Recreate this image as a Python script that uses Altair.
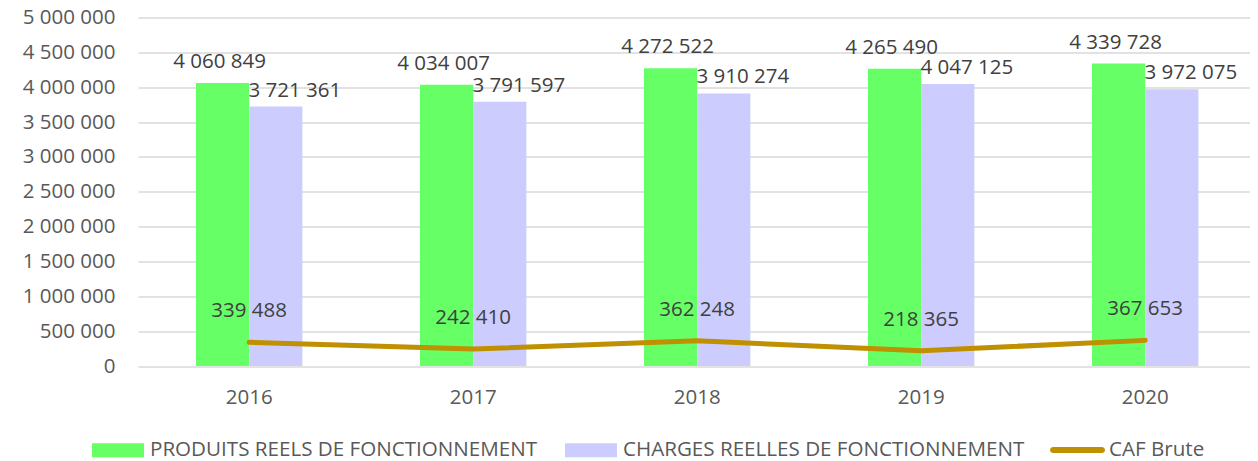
import altair as alt
import pandas as pd

years = ["2016", "2017", "2018", "2019", "2020"]
produits = [4060849, 4034007, 4272522, 4265490, 4339728]
charges = [3721361, 3791597, 3910274, 4047125, 3972075]
caf = [339488, 242410, 362248, 218365, 367653]
series_names = ["PRODUITS REELS DE FONCTIONNEMENT", "CHARGES REELLES DE FONCTIONNEMENT"]
caf_name = "CAF Brute"
bar_colors = ["#66FF66", "#CCCCFF"]
line_color = "#BF9000"
y_ticks = [0, 500000, 1000000, 1500000, 2000000, 2500000, 3000000, 3500000, 4000000, 4500000, 5000000]

FONT = "Open Sans"
FS = 20.5
LFS = 20.6
AXIS_COLOR = "#595959"
LABEL_COLOR = "#404040"
FMT = "replace(format(datum.value, ','), regexp(',', 'g'), ' ')"

bars_df = pd.DataFrame({
    "year": years * 2,
    "series": [series_names[0]] * len(years) + [series_names[1]] * len(years),
    "value": produits + charges,
})
caf_df = pd.DataFrame({"year": years, "value": caf, "series2": [caf_name] * len(years)})

x_enc = alt.X(
    "year:N", sort=years,
    scale=alt.Scale(paddingInner=0.525, paddingOuter=0.2446, align=0.529),
    axis=alt.Axis(title=None, labelAngle=0, ticks=False, domain=False, grid=False,
                  labelPadding=21, labelFont=FONT, labelFontSize=FS, labelColor=AXIS_COLOR),
)
y_enc = alt.Y(
    "value:Q",
    scale=alt.Scale(domain=[0, 5000000], nice=False),
    axis=alt.Axis(title=None, values=y_ticks, tickCount=11, labelExpr=FMT, ticks=False, domain=False,
                  labelOverlap=False, gridColor="#D9D9D9", gridWidth=1.3, labelPadding=23,
                  labelFont=FONT, labelFontSize=FS, labelColor=AXIS_COLOR),
)
xoff = alt.XOffset("series:N", sort=series_names, scale=alt.Scale(paddingInner=0, paddingOuter=0))

bar_path = "M-1,-0.27L1,-0.27L1,0.27L-1,0.27Z"
capsule = "M-0.89,-0.109L0.89,-0.109A0.109,0.109,0,0,1,0.89,0.109L-0.89,0.109A0.109,0.109,0,0,1,-0.89,-0.109Z"

bars = alt.Chart(bars_df).mark_bar().encode(
    x=x_enc, y=y_enc, xOffset=xoff,
    color=alt.Color("series:N", sort=series_names,
                    scale=alt.Scale(domain=series_names, range=bar_colors),
                    legend=alt.Legend(title=None, orient="none", legendX=-46, legendY=406.5,
                                      direction="horizontal", symbolType=bar_path, symbolSize=2704,
                                      symbolStrokeWidth=0, symbolOpacity=1, labelFont=FONT,
                                      labelFontSize=LFS, labelColor=AXIS_COLOR, labelOffset=6,
                                      columnPadding=27, padding=0, labelLimit=0)),
)

base_text = alt.Chart(bars_df).transform_calculate(label=FMT)
txt_p = base_text.transform_filter(alt.datum.series == series_names[0]).mark_text(
    dx=-3, dy=-15, baseline="alphabetic", align="center", font=FONT, fontSize=FS, color=LABEL_COLOR
).encode(x=x_enc, y=y_enc, xOffset=xoff, text="label:N")
txt_c = base_text.transform_filter(alt.datum.series == series_names[1]).mark_text(
    dx=19, dy=-10, baseline="alphabetic", align="center", font=FONT, fontSize=FS, color=LABEL_COLOR
).encode(x=x_enc, y=y_enc, xOffset=xoff, text="label:N")

line = alt.Chart(caf_df).mark_line(strokeWidth=5, strokeCap="round", strokeJoin="round").encode(
    x=x_enc, y=y_enc,
    stroke=alt.Stroke("series2:N", scale=alt.Scale(domain=[caf_name], range=[line_color]),
                      legend=alt.Legend(title=None, orient="none", legendX=912, legendY=405,
                                        direction="horizontal", symbolType=capsule, symbolSize=3025,
                                        symbolFillColor=line_color, symbolStrokeWidth=0,
                                        symbolOpacity=1, labelFont=FONT, labelFontSize=LFS,
                                        labelColor=AXIS_COLOR, labelOffset=4, padding=0,
                                        labelLimit=0)),
)
txt_caf = alt.Chart(caf_df).transform_calculate(label=FMT).mark_text(
    dy=-25, baseline="alphabetic", align="center", font=FONT, fontSize=FS, color=LABEL_COLOR
).encode(x=x_enc, y=y_enc, text="label:N")

chart = alt.layer(bars, txt_p, txt_c, line, txt_caf).properties(
    width=1112, height=348.5,
    autosize=alt.AutoSizeParams(type="none"),
    padding={"left": 130, "top": 9.5, "right": 0, "bottom": 95},
).configure_view(stroke=None).resolve_scale(color="independent")

chart.save("out.html", embed_options={"renderer": "svg", "actions": False})
